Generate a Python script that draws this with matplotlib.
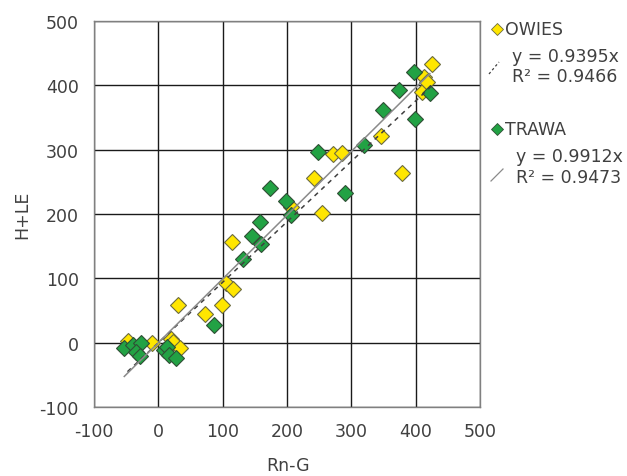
import os
import matplotlib
matplotlib.use("Agg")
import matplotlib.pyplot as plt
import numpy as np
from matplotlib.lines import Line2D
from matplotlib.font_manager import FontProperties

dv_path = os.path.join(matplotlib.get_data_path(), "fonts", "ttf", "DejaVuSans.ttf")
FS = 12.5


def fp(size=FS):
    if os.path.exists(dv_path):
        return FontProperties(fname=dv_path, size=size)
    return FontProperties(family="DejaVu Sans", size=size)


plt.rcParams["axes.unicode_minus"] = False

# Energy balance closure: available energy (Rn-G) vs turbulent fluxes (H+LE)
owies_x = [-48, -10, 20, 22, 33, 31, 72, 99, 105, 116, 114, 206, 255, 242,
           271, 286, 346, 378, 410, 413, 418, 426]
owies_y = [3, 0, 6, 1, -8, 59, 44, 59, 92, 84, 157, 211, 201, 256,
           293, 295, 321, 264, 390, 413, 405, 433]

trawa_x = [-53, -40, -27, -35, -29, 8, 14, 17, 27, 87, 132, 145, 158, 160,
           173, 198, 206, 248, 290, 320, 349, 374, 397, 399, 422]
trawa_y = [-8, -3, -1, -14, -21, -11, -6, -19, -24, 28, 130, 165, 188, 153,
           241, 220, 198, 297, 232, 307, 362, 392, 420, 348, 388]

owies_slope, owies_r2 = 0.9395, 0.9466
trawa_slope, trawa_r2 = 0.9912, 0.9473

x_ticks = [-100, 0, 100, 200, 300, 400, 500]
y_ticks = [-100, 0, 100, 200, 300, 400, 500]

text_col = "#404040"
yellow = "#FFE600"
green = "#22A244"

fig = plt.figure(figsize=(6.27, 4.77), dpi=100)
ax = fig.add_axes([0.150, 0.1447, 0.6156, 0.8092])

ax.set_xlim(-100, 500)
ax.set_ylim(-100, 500)
ax.set_xticks(x_ticks)
ax.set_yticks(y_ticks)
ax.set_xticklabels([str(v) for v in x_ticks], fontproperties=fp())
ax.set_yticklabels([str(v) for v in y_ticks], fontproperties=fp())
ax.grid(True, color="#1a1a1a", linewidth=1.0)
ax.set_axisbelow(True)
for s in ax.spines.values():
    s.set_color("#808080")
    s.set_linewidth(1.0)
ax.tick_params(length=0, colors=text_col)
ax.tick_params(axis="y", pad=11)
ax.tick_params(axis="x", pad=11)

ax.plot(owies_x, owies_y, linestyle="none", marker="D", markersize=8,
        markerfacecolor=yellow, markeredgecolor="#6b6b40", markeredgewidth=0.8,
        zorder=3)
ax.plot(trawa_x, trawa_y, linestyle="none", marker="D", markersize=8,
        markerfacecolor=green, markeredgecolor="#2f4f35", markeredgewidth=0.8,
        zorder=3)

# Linear trend lines through the origin across each series' x range
ox = np.array([min(owies_x), max(owies_x)])
tx = np.array([min(trawa_x), max(trawa_x)])
ax.plot(ox, owies_slope * ox, linestyle=(0, (3, 3)), color="#404040",
        linewidth=1.1, zorder=4)
ax.plot(tx, trawa_slope * tx, linestyle="-", color="#8a8a8a",
        linewidth=1.1, zorder=4)

ax.set_ylabel("H+LE", fontproperties=fp(), color=text_col, labelpad=6)

# Legend entries and axis title drawn in figure pixel coordinates
W, H = 627, 477


def fx(px):
    return px / W


def fy(py):
    return 1 - py / H


def label(px, py, s, ha="left"):
    fig.text(fx(px), fy(py), s, fontproperties=fp(), color=text_col,
             va="center", ha=ha)


label(288, 466, "Rn-G", ha="center")

fig.add_artist(Line2D([fx(497)], [fy(30)], marker="D", markersize=6,
                      markerfacecolor=yellow, markeredgecolor="#6b6b40",
                      markeredgewidth=0.6, linestyle="none"))
label(505, 30, "OWIES")
fig.add_artist(Line2D([fx(489), fx(499)], [fy(75), fy(63)],
                      linestyle=(0, (2, 2)), color="#404040", linewidth=0.9))
label(512, 57, f"y = {owies_slope:.4f}x")
label(512, 77, f"R² = {owies_r2:.4f}")

fig.add_artist(Line2D([fx(497)], [fy(130)], marker="D", markersize=6,
                      markerfacecolor=green, markeredgecolor="#2f4f35",
                      markeredgewidth=0.6, linestyle="none"))
label(505, 130, "TRAWA")
fig.add_artist(Line2D([fx(491), fx(503)], [fy(182), fy(170)],
                      linestyle="-", color="#8a8a8a", linewidth=0.9))
label(516, 157, f"y = {trawa_slope:.4f}x")
label(516, 178, f"R² = {trawa_r2:.4f}")

fig.savefig("out.png", dpi=100)
